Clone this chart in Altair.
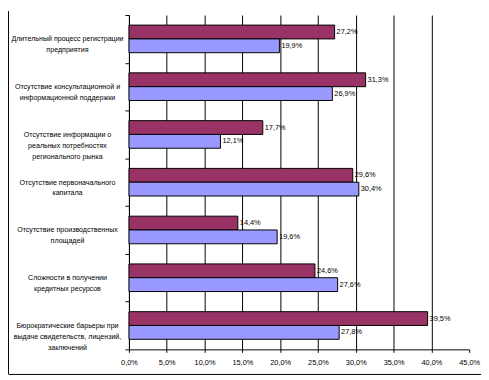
import altair as alt
import pandas as pd

categories = [
    "Длительный процесс регистрации\nпредприятия",
    "Отсутствие консультационной и\nинформационной поддержки",
    "Отсутствие информации о\nреальных потребностях\nрегионального рынка",
    "Отсутствие первоначального\nкапитала",
    "Отсутствие производственных\nплощадей",
    "Сложности в получении\nкредитных ресурсов",
    "Бюрократические барьеры при\nвыдаче свидетельств, лицензий,\nзаключений",
]
series = ["Серия 1", "Серия 2"]
values_1 = [27.2, 31.3, 17.7, 29.6, 14.4, 24.6, 39.5]
values_2 = [19.9, 26.9, 12.1, 30.4, 19.6, 27.6, 27.8]
x_ticks = [0, 5, 10, 15, 20, 25, 30, 35, 40, 45]
colors = ["#993366", "#9999FF"]

rows = []
for c, a, b in zip(categories, values_1, values_2):
    rows.append({"cat": c, "series": series[0], "value": a})
    rows.append({"cat": c, "series": series[1], "value": b})
df = pd.DataFrame(rows)
df["label"] = df["value"].map(lambda v: f"{v:.1f}".replace(".", ",") + "%")

FONT = "Liberation Sans"

y_enc = alt.Y(
    "cat:N",
    sort=categories,
    scale=alt.Scale(paddingInner=0, paddingOuter=0),
    axis=alt.Axis(
        title=None,
        labelExpr="split(datum.label, '\\n')",
        labelAlign="center",
        labelPadding=59,
        labelLimit=0,
        labelFont=FONT,
        labelFontSize=7.2,
        labelColor="black",
        labelLineHeight=11,
        tickBand="extent",
        tickSize=4,
        tickColor="black",
        domainColor="black",
        grid=False,
    ),
)
x_enc = alt.X(
    "value:Q",
    scale=alt.Scale(domain=[0, 45], nice=False),
    axis=alt.Axis(
        title=None,
        values=x_ticks,
        labelExpr="replace(format(datum.value, '.1f'), '.', ',') + '%'",
        labelFont=FONT,
        labelFontSize=7.5,
        labelColor="black",
        labelPadding=6,
        labelOverlap=False,
        labelFlush=False,
        tickSize=3,
        tickColor="black",
        domainColor="black",
        grid=True,
        gridColor="black",
        gridOpacity={"condition": {"test": "datum.value >= 45", "value": 0}, "value": 1},
    ),
)
yoff = alt.YOffset("series:N", sort=series, scale=alt.Scale(paddingInner=0, paddingOuter=0.73))

base = alt.Chart(df)
bars = base.mark_bar(stroke="black", strokeWidth=1).encode(
    x=x_enc,
    y=y_enc,
    yOffset=yoff,
    color=alt.Color("series:N", scale=alt.Scale(domain=series, range=colors), legend=None),
)
texts = base.mark_text(
    align="left", baseline="middle", dx=2, font=FONT, fontSize=7.5, color="black"
).encode(
    x=x_enc,
    y=y_enc,
    yOffset=yoff,
    text="label:N",
)

frame_df = pd.DataFrame({"k": [0]})
left_line = alt.Chart(frame_df).mark_rule(color="black", strokeWidth=1).encode(
    x=alt.value(-122.5), y=alt.value(-4), y2=alt.value(365)
)
bottom_line = alt.Chart(frame_df).mark_rule(color="black", strokeWidth=1).encode(
    x=alt.value(-122.5), x2=alt.value(358), y=alt.value(365.5)
)

chart = (
    alt.layer(bars, texts, left_line, bottom_line)
    .properties(
        width=346,
        height=340,
        autosize=alt.AutoSizeParams(type="none"),
        padding={"left": 123, "top": 4, "right": 12, "bottom": 28},
        background="white",
    )
    .configure_view(stroke=None)
)

chart.save("out.html", embed_options={"renderer": "svg", "actions": False})
